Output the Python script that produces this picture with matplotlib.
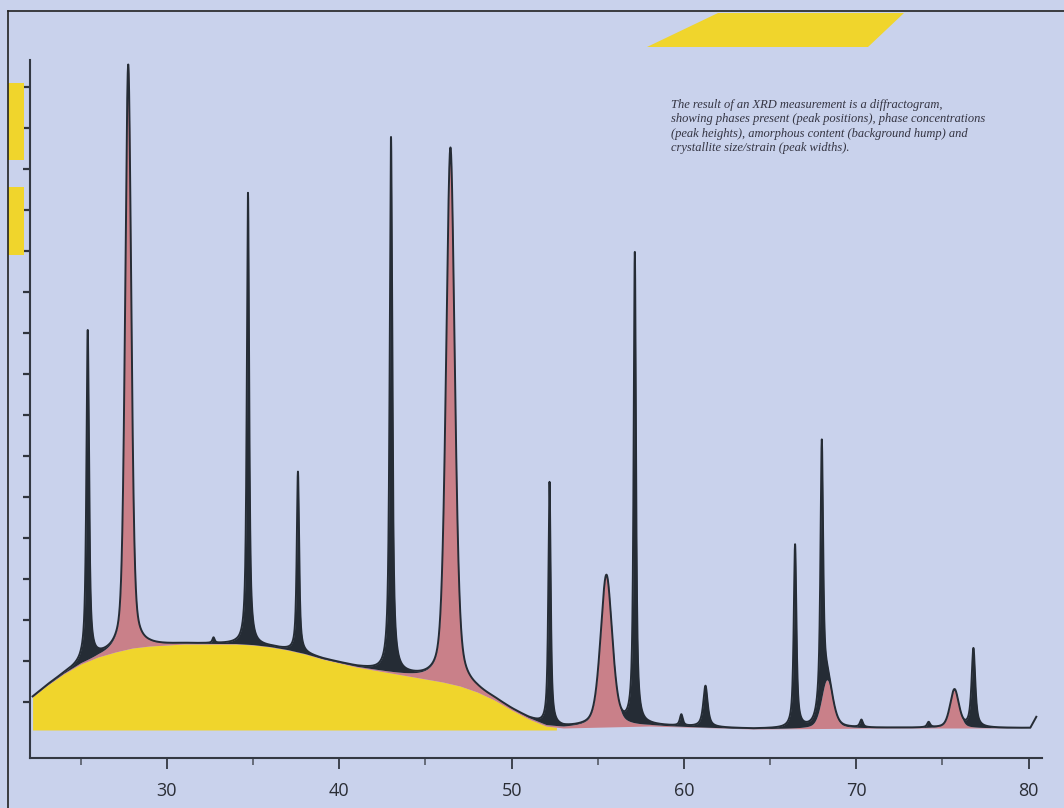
import numpy as np
import matplotlib
matplotlib.use("Agg")
import matplotlib.pyplot as plt
from matplotlib.patches import Polygon
from matplotlib.lines import Line2D

# ---- data ----
# amorphous background hump (2theta, counts)
bg_2theta = [22.2, 23, 24, 25, 26, 27, 28, 29, 30, 31, 32, 33, 34, 35, 36, 37, 38,
             39, 40, 41, 42, 43, 44, 45, 46, 47, 48, 49, 50, 51, 52, 53, 58, 64,
             72, 80.1, 80.45]
bg_counts = [610, 720, 840, 940, 1010, 1060, 1100, 1120, 1130, 1140, 1140, 1140,
             1140, 1130, 1110, 1080, 1040, 990, 950, 910, 880, 850, 820, 790, 760,
             720, 660, 580, 480, 390, 320, 300, 320, 290, 300, 300, 410]
hump_end = 52.6

# crystalline peaks: position, top counts, FWHM, broad (pink) or sharp
peak_pos = [25.4, 27.75, 32.7, 34.7, 37.6, 43.0, 46.45, 52.2, 55.5, 57.15, 59.85,
            61.25, 66.45, 68.0, 68.3, 70.3, 74.2, 75.7, 76.8]
peak_top = [4280, 6930, 1200, 5650, 2860, 6210, 6100, 2760, 1820, 5060, 430,
            720, 2130, 3180, 780, 380, 360, 680, 1100]
peak_fwhm = [0.18, 0.42, 0.15, 0.16, 0.16, 0.18, 0.6, 0.16, 0.8, 0.16, 0.20,
             0.30, 0.18, 0.18, 0.75, 0.20, 0.20, 0.60, 0.25]
peak_broad = [False, True, False, False, False, False, True, False, True, False,
              False, False, False, False, True, False, False, True, False]

x_ticks = [30, 40, 50, 60, 70, 80]
x_minor = [25, 35, 45, 55, 65, 75]
y_ticks = np.arange(560, 6900, 410)

caption = ("The result of an XRD measurement is a diffractogram,\n"
           "showing phases present (peak positions), phase concentrations\n"
           "(peak heights), amorphous content (background hump) and\n"
           "crystallite size/strain (peak widths).")

paper = "#c9d2ec"
yellow = "#f0d52c"
pink = "#c98089"
dark = "#252c35"

W, H = 1064, 808
fig = plt.figure(figsize=(W / 100, H / 100), dpi=100, facecolor=paper)
ax = fig.add_axes([30 / W, 1 - 758 / H, (1042 - 30) / W, (758 - 60) / H])
ax.set_facecolor("none")
ax.set_xlim(22.05, 80.78)
ax.set_ylim(0, 6980)


def pv(x, x0, w, eta):
    d = 2 * (x - x0) / w
    lor = 1 / (1 + d ** 2)
    gau = np.exp(-np.log(2) * d ** 2)
    return eta * lor + (1 - eta) * gau


bx = np.array(bg_2theta)
by = np.array(bg_counts)
tt = np.linspace(bx[0], bx[-1], 24000)
base = np.interp(tt, bx, by)

# broad (pink) phase first, then the sharp phase stacked on top of it
broad = np.zeros_like(tt)
for x0, top, w, b in zip(peak_pos, peak_top, peak_fwhm, peak_broad):
    if b:
        broad += (top - np.interp(x0, bx, by)) * pv(tt, x0, w, 0.4)
sharp = np.zeros_like(tt)
for x0, top, w, b in zip(peak_pos, peak_top, peak_fwhm, peak_broad):
    if not b:
        h = top - np.interp(x0, bx, by) - np.interp(x0, tt, broad)
        sharp += h * pv(tt, x0, w, 0.8)
total = base + broad + sharp

m = tt <= hump_end
ax.fill_between(tt[m], base[m], 280, color=yellow, lw=0, zorder=1)
ax.fill_between(tt, base, base + broad, color=pink, lw=0, zorder=2)
ax.fill_between(tt, base + broad, total, color=dark, lw=0, zorder=3)
ax.plot(tt, total, color=dark, lw=1.4, zorder=4)

# axes styling
for s in ["top", "right"]:
    ax.spines[s].set_visible(False)
for s in ["left", "bottom"]:
    ax.spines[s].set_color("#333842")
    ax.spines[s].set_linewidth(1.5)
ax.set_xticks(x_ticks)
ax.set_xticks(x_minor, minor=True)
ax.set_xticklabels([str(t) for t in x_ticks], fontsize=13, family="Open Sans",
                   color="#2a2d35")
ax.tick_params(axis="x", which="major", length=8, width=1.3, pad=9,
               color="#333842")
ax.tick_params(axis="x", which="minor", length=5, width=1.2, color="#555a66")
ax.set_yticks(y_ticks)
ax.set_yticklabels([])
ax.tick_params(axis="y", length=5, width=1.6, color="#2f343d")

# caption
fig.text(671 / W, 1 - 99 / H, caption, fontsize=9, family="Liberation Serif",
         style="italic", color="#343442", va="top", ha="left", linespacing=1.25)


# decorative scan marks
def fpoly(pts, color):
    p = Polygon([(x / W, 1 - y / H) for x, y in pts], closed=True,
                transform=fig.transFigure, facecolor=color, edgecolor="none")
    fig.patches.append(p)


fpoly([(718, 13), (904, 13), (868, 47), (647, 47)], yellow)
fpoly([(8, 83), (24, 83), (24, 160), (8, 160)], yellow)
fpoly([(8, 187), (24, 187), (24, 255), (8, 255)], yellow)
fig.add_artist(Line2D([8 / W, 8 / W], [0, 1 - 11 / H], color="#222",
                      lw=1.2, transform=fig.transFigure))
fig.add_artist(Line2D([8 / W, 1], [1 - 11 / H, 1 - 11 / H], color="#222",
                      lw=1.2, transform=fig.transFigure))

fig.savefig("out.png", dpi=100, facecolor=paper)
